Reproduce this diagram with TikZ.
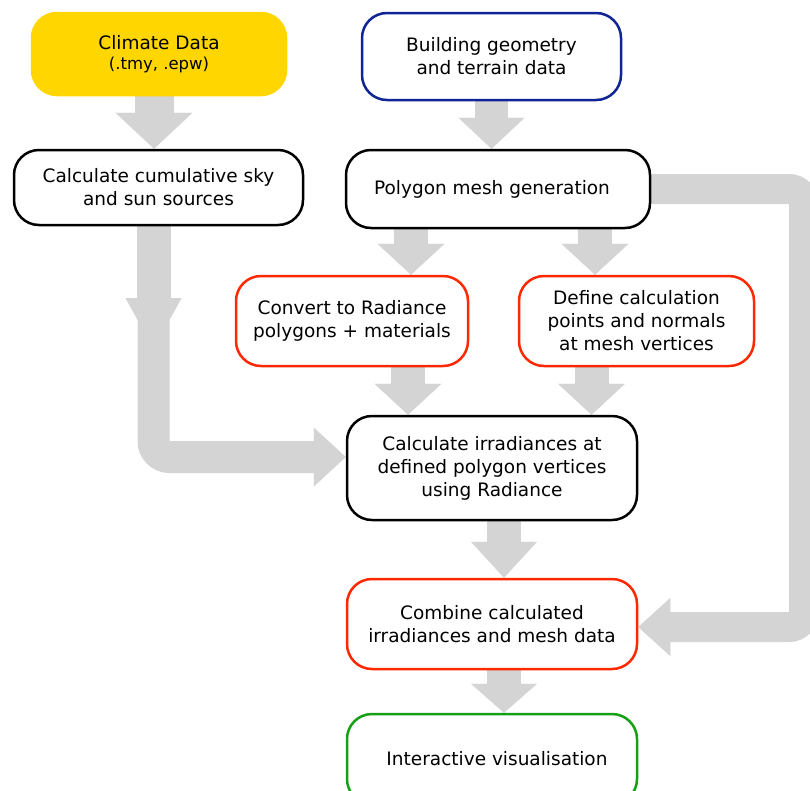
\documentclass[tikz,border=0pt]{standalone}
\usepackage{fontspec}
\setmainfont{DejaVu Sans}
\usetikzlibrary{arrows.meta, positioning, backgrounds}
\definecolor{climyellow}{RGB}{255,214,0}
\definecolor{geoblue}{RGB}{16,36,150}
\definecolor{procred}{RGB}{255,40,0}
\definecolor{visgreen}{RGB}{22,160,22}
\definecolor{flowgray}{RGB}{212,212,212}

\begin{document}
\begin{tikzpicture}[
  x=1pt, y=-1pt,
  box/.style={rectangle, rounded corners=25pt, draw=black, line width=2.5pt,
    fill=white, minimum width=290pt, minimum height=90pt, align=center,
    inner sep=0pt, font=\fontsize{18.5}{23}\selectfont},
  geobox/.style={box, draw=geoblue},
  redbox/.style={box, draw=procred},
  greenbox/.style={box, draw=visgreen},
  flow/.style={draw=flowgray, line width=34pt,
    -{Triangle[length=31pt, width=67pt, line width=0.1pt]}},
]
  \useasboundingbox (0,0) rectangle (810,790);
  \clip (0,0) rectangle (810,790);

  % Inputs
  \node[box, fill=climyellow, draw=climyellow, minimum width=254pt,
    minimum height=82pt] (climate) at (159,54)
    {Climate Data\\[-3pt]{\fontsize{16.5}{19}\selectfont (.tmy, .epw)}};
  \node[geobox, minimum width=259pt, minimum height=87pt] (building) at (491.5,56.5)
    {Building geometry\\and terrain data};

  % Preparation
  \node[box, minimum width=289pt, minimum height=75pt] (sky) at (158.5,187.5)
    {Calculate cumulative sky\\and sun sources};
  \node[box, minimum width=304pt, minimum height=78pt] (mesh) at (498,189)
    {Polygon mesh generation\hspace*{12pt}};
  \node[redbox, minimum width=232pt] (convert) at (352,321)
    {Convert to Radiance\\polygons + materials};
  \node[redbox, minimum width=235pt] (define) at (636.5,321)
    {Define calculation\\points and normals\\at mesh vertices};

  % Results
  \node[box, minimum height=104pt] (irrad) at (492,468)
    {Calculate irradiances at\\defined polygon vertices\\using Radiance};
  \node[redbox] (combine) at (492,624)
    {Combine calculated\\irradiances and mesh data};
  \node[greenbox] (visual) at (492,759)
    {\hspace*{10pt}Interactive visualisation};

  \coordinate (skydrop) at (153.5,349);
  \coordinate (rightcol) at (804,400);

  % Grey flow arrows
  \begin{scope}[on background layer]
    \clip (0,0) rectangle (810,790);
    \draw[flow, line width=39pt,
      -{Triangle[length=36pt, width=77pt, line width=0.1pt]}]
      ([xshift=-5pt]climate.south) -- ([xshift=-4.5pt]sky.north);
    \draw[flow, line width=33pt,
      -{Triangle[length=31pt, width=66pt, line width=0.1pt]}]
      (building.south) -- (building.south |- mesh.north);
    \draw[flow] ([xshift=-87pt]mesh.south) -- ([xshift=-87pt]mesh.south |- convert.north);
    \draw[flow] ([xshift=97pt]mesh.south) -- ([xshift=97pt]mesh.south |- define.north);
    \draw[flow] ([xshift=56pt]convert.south) -- ([xshift=56pt]convert.south |- irrad.north);
    \draw[flow] ([xshift=-45pt]define.south) -- ([xshift=-45pt]define.south |- irrad.north);
    \draw[flow, -{Triangle[length=36pt, width=66pt, line width=0.1pt]}]
      ([xshift=12pt]irrad.south) -- ([xshift=12pt]irrad.south |- combine.north);
    \draw[flow, -{Triangle[length=29pt, width=66pt, line width=0.1pt]}]
      ([xshift=12pt]combine.south) -- ([xshift=12pt]combine.south |- visual.north);

    % sky sources to irradiance
    \draw[flow, -{Triangle[length=51pt, width=56pt, line width=0.1pt]}]
      ([xshift=-5pt]sky.south) -- (skydrop);
    \draw[flow, line width=32pt, rounded corners=16pt,
      -{Triangle[length=32pt, width=59pt, line width=0.1pt]}]
      ([xshift=-5pt]sky.south) |- ([yshift=11pt]irrad.west);

    % mesh to combine
    \draw[flow, line width=30pt, rounded corners=15pt,
      -{Triangle[length=32pt, width=58pt, line width=0.1pt]}]
      (mesh.east) -| (rightcol) |- ([yshift=-3pt]combine.east);
  \end{scope}
\end{tikzpicture}
\end{document}
